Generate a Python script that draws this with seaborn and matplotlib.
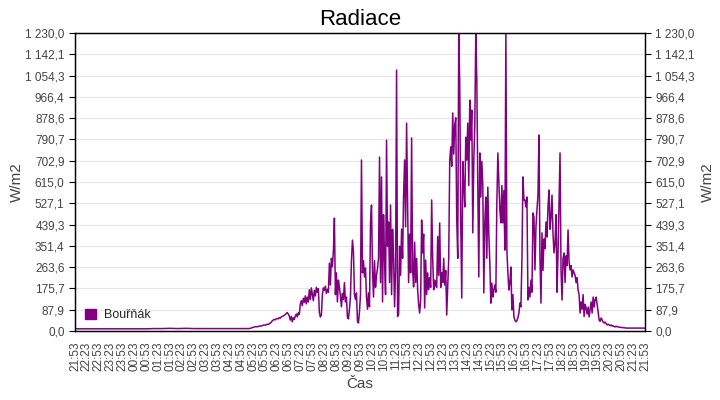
import pandas as pd
import numpy as np
import seaborn as sns
import matplotlib.pyplot as plt
from matplotlib.patches import Patch

# --- data ---
start = pd.Timestamp("2023-06-01 21:53")
end = pd.Timestamp("2023-06-02 21:53")

# night, one value every 20 min from 21:53 to 04:53
night_vals = [9, 9, 9, 9, 9, 9, 9, 9, 9, 9, 10, 10, 11, 10, 11, 10, 10, 10, 10, 10, 10, 10]

# day, one value every 152 s from 05:13 on
day_vals = [
    10, 11, 12, 14, 15, 16, 18, 18, 17, 19,
    20, 21, 20, 22, 24, 25, 24, 26, 28, 27,
    30, 33, 36, 42, 45, 48, 46, 50, 52, 50,
    55, 53, 58, 60, 62, 65, 68, 72, 76, 70,
    62, 45, 60, 38, 55, 48, 62, 70, 58, 75,
    68, 110, 125, 105, 135, 118, 145, 112, 140, 120,
    170, 130, 178, 150, 125, 168, 145, 180, 160, 175,
    78, 58, 65, 150, 178, 168, 185, 155, 172, 160,
    280, 190, 300, 265, 330, 466, 150, 240, 120, 210,
    180, 145, 100, 155, 130, 200, 120, 140, 55, 50,
    90, 142, 290, 375, 330, 150, 130, 157, 40, 33,
    80, 150, 706, 240, 290, 223, 260, 140, 90, 157,
    100, 446, 520, 250, 140, 290, 180, 230, 260, 300,
    718, 200, 636, 120, 480, 300, 150, 788, 350, 450,
    200, 520, 150, 420, 300, 100, 250, 1077, 60, 70,
    350, 230, 420, 300, 560, 706, 430, 858, 512, 200,
    400, 240, 797, 250, 182, 367, 200, 300, 170, 110,
    74, 128, 458, 322, 400, 95, 293, 150, 240, 170,
    220, 180, 541, 300, 170, 210, 190, 180, 390, 230,
    446, 180, 240, 200, 300, 190, 250, 66, 180, 300,
    700, 760, 680, 900, 730, 850, 880, 460, 300, 1230,
    1015, 450, 136, 700, 600, 512, 800, 706, 858, 600,
    953, 788, 912, 405, 700, 850, 1230, 1036, 600, 223,
    735, 553, 700, 600, 157, 450, 553, 300, 594, 400,
    280, 115, 198, 140, 170, 190, 160, 528, 735, 623,
    500, 446, 600, 446, 580, 334, 1230, 334, 240, 169,
    200, 264, 87, 150, 58, 45, 38, 42, 55, 74,
    115, 100, 293, 636, 541, 541, 512, 553, 128, 180,
    140, 210, 160, 487, 471, 252, 430, 500, 561, 809,
    300, 115, 405, 250, 380, 340, 450, 388, 512, 582,
    420, 470, 561, 400, 322, 363, 480, 160, 322, 528,
    735, 250, 128, 300, 322, 200, 310, 270, 417, 285,
    252, 270, 223, 252, 240, 230, 200, 220, 169, 150,
    74, 120, 90, 150, 60, 110, 95, 70, 99, 58,
    90, 120, 74, 140, 99, 130, 140, 110, 78, 45,
    40, 54, 45, 37, 33, 37, 30, 25, 28, 25,
    22, 25, 20, 22, 18, 17, 20, 17, 17, 16,
    15, 15, 14, 14, 13, 13, 12, 12, 12, 12,
    12, 12, 12, 12, 12, 12, 12, 12, 12, 12, 12, 12, 12, 12, 12, 12, 12,
]

series_name = "Bouřňák"
y_max = 1230.0

night_times = pd.date_range(start, periods=len(night_vals), freq="20min")
day_times = pd.date_range(pd.Timestamp("2023-06-02 05:13"), periods=len(day_vals), freq="152s")
df = pd.DataFrame({
    "time": night_times.append(day_times),
    "value": night_vals + day_vals,
})

purple = "#800080"
grey = "#444444"

sns.set_style("white")
plt.rcParams["font.family"] = ["Liberation Sans", "DejaVu Sans"]

fig = plt.figure(figsize=(7.2, 4.0), dpi=100)
ax = fig.add_axes([75 / 720, 69 / 400, 570 / 720, 298 / 400])

sns.lineplot(data=df, x="time", y="value", ax=ax, color=purple, linewidth=1.1, legend=False)

# y axis: 14 equal steps, Czech number format
yticks = np.linspace(0, y_max, 15)
def cz(v):
    return f"{v:,.1f}".replace(",", " ").replace(".", ",")
ylabels = [cz(v) for v in yticks]

ax.set_ylim(0, y_max)
ax.set_yticks(yticks)
ax.set_yticklabels(ylabels)
ax.yaxis.grid(True, color="#e6e6e6", linewidth=0.8)
ax.set_axisbelow(True)

# x axis: every 30 minutes
xticks = pd.date_range(start, end, freq="30min")
ax.set_xlim(start, end)
ax.set_xticks(xticks)
ax.set_xticklabels([t.strftime("%H:%M") for t in xticks], rotation=90)

ax.tick_params(axis="both", direction="out", length=4, width=0.8, colors="black",
               labelcolor=grey, labelsize=8.5)
ax.set_xlabel("Čas", fontsize=11, color=grey, labelpad=4)
ax.set_ylabel("W/m2", fontsize=11, color=grey, labelpad=1)

ax2 = ax.twinx()
ax2.set_ylim(0, y_max)
ax2.set_yticks(yticks)
ax2.set_yticklabels(ylabels)
ax2.tick_params(axis="y", direction="out", length=4, width=0.8, colors="black",
                labelcolor=grey, labelsize=8.5)
ax2.set_ylabel("W/m2", fontsize=11, color=grey, labelpad=4)

for a in (ax, ax2):
    for s in a.spines.values():
        s.set_color("black")
        s.set_linewidth(0.9)

ax.legend(handles=[Patch(facecolor=purple, edgecolor=purple, label=series_name)],
          loc="lower left", frameon=False, fontsize=9, handlelength=0.9, handleheight=0.9,
          borderaxespad=0.4, handletextpad=0.6)

fig.suptitle("Radiace", fontsize=16, y=0.977, color="black")

fig.savefig("out.png", dpi=100)
